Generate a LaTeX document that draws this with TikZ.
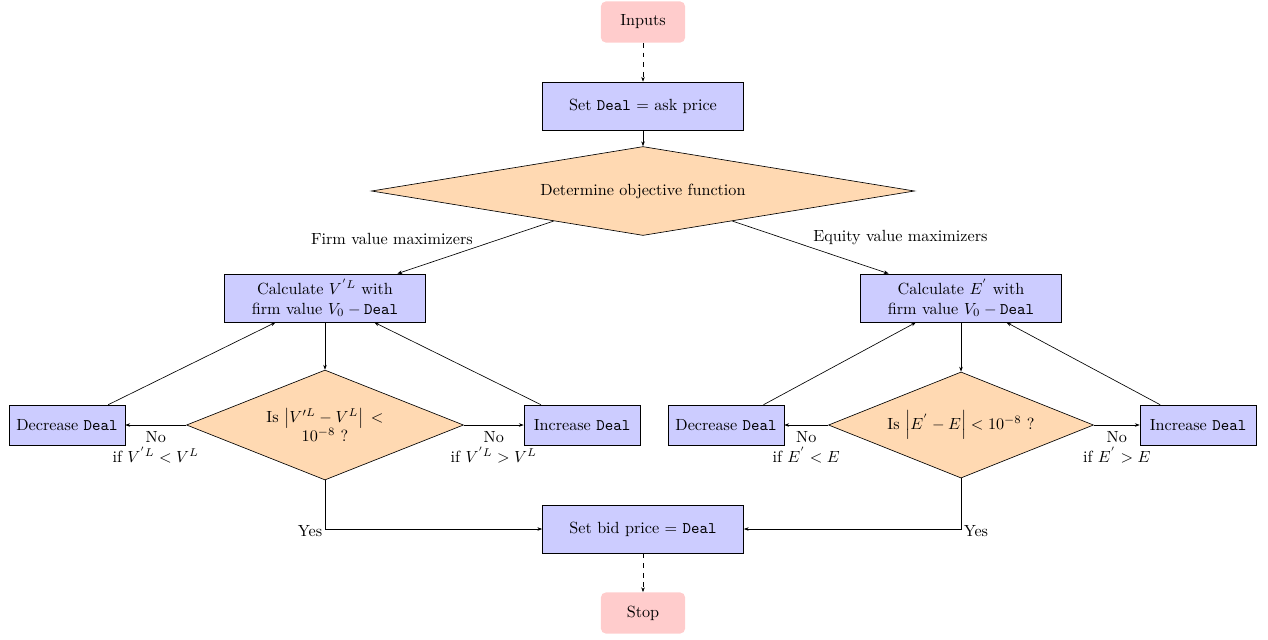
\documentclass[tikz,border=0pt]{standalone}
\usetikzlibrary{shapes.geometric,arrows.meta}
\begin{document}
\begin{tikzpicture}[x=0.6184pt,y=-0.6184pt,
  every node/.style={inner sep=2pt},
  startstop/.style={rectangle, rounded corners=3pt, fill=red!20, draw=none, minimum width=52pt, minimum height=25.4pt},
  procbox/.style={rectangle, draw, fill=blue!20, minimum width=124.3pt, minimum height=29.7pt, align=center},
  smallbox/.style={rectangle, draw, fill=blue!20, minimum width=71.7pt, minimum height=24.7pt},
  decision/.style={diamond, draw, fill=orange!30, inner sep=0pt, align=center},
  arr/.style={-{Stealth[length=3pt,width=2.2pt]}, line width=0.4pt},
  lbl/.style={align=center, inner sep=1.5pt},
  nolbl/.style={align=center, inner sep=1.5pt, below, yshift=-2.5pt}]
\useasboundingbox (0,0) rectangle (1268,639);
\node[startstop] (inputs) at (643,22) {Inputs};
\node[procbox] (setdeal) at (643,106) {Set \texttt{Deal} $=$ ask price};
\node[decision, shape aspect=6, minimum width=335.8pt, minimum height=55pt] (obj) at (643,191) {Determine objective function};
\node[procbox] (calcV) at (325,298) {Calculate $V^{'L}$ with\\firm value $V_0 - {}$\texttt{Deal}};
\node[procbox] (calcE) at (961,298) {Calculate $E^{'}$ with\\firm value $V_0 - {}$\texttt{Deal}};
\node[decision, shape aspect=2.5, minimum width=171.3pt, minimum height=68pt] (dV) at (325,425) {Is $\left|V'^L-V^L\right|\,<$\\$10^{-8}$ ?};
\node[decision, shape aspect=2.5, minimum width=163.9pt, minimum height=65.6pt] (dE) at (961,425) {Is $\left|E^{'}-E\right|<10^{-8}$ ?};
\node[smallbox] (decV) at (67,425) {Decrease \texttt{Deal}};
\node[smallbox] (incV) at (582,425) {Increase \texttt{Deal}};
\node[smallbox] (decE) at (726,425) {Decrease \texttt{Deal}};
\node[smallbox] (incE) at (1198,425) {Increase \texttt{Deal}};
\node[procbox] (bid) at (643,529) {Set bid price $=$ \texttt{Deal}};
\node[startstop] (stop) at (643,613) {Stop};

\draw[arr, dashed] (inputs) -- (setdeal);
\draw[arr] (setdeal) -- (obj);
\draw[arr] (obj) -- node[lbl, above left] {Firm value maximizers} (calcV);
\draw[arr] (obj) -- node[lbl, above right] {Equity value maximizers} (calcE);
\draw[arr] (calcV) -- (dV);
\draw[arr] (calcE) -- (dE);
\draw[arr] (dV) -- node[nolbl] {No\\if $V^{'L}<V^L$} (decV);
\draw[arr] (dV) -- node[nolbl] {No\\if $V^{'L}>V^L$} (incV);
\draw[arr] (dE) -- node[nolbl] {No\\if $E^{'}<E$} (decE);
\draw[arr] (dE) -- node[nolbl] {No\\if $E^{'}>E$} (incE);
\draw[arr] (decV) -- (calcV);
\draw[arr] (incV) -- (calcV);
\draw[arr] (decE) -- (calcE);
\draw[arr] (incE) -- (calcE);
\draw[arr] (dV.south) |- node[lbl, left, pos=0.5, yshift=-1pt] {Yes} (bid.west);
\draw[arr] (dE.south) |- node[lbl, right, pos=0.5, yshift=-1pt] {Yes} (bid.east);
\draw[arr, dashed] (bid) -- (stop);
\end{tikzpicture}
\end{document}
